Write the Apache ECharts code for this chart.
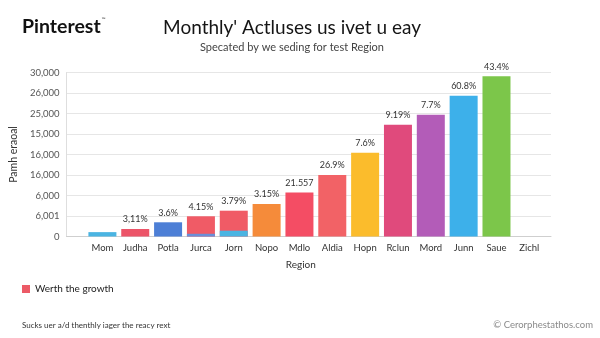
<!DOCTYPE html>
<html>
<head>
<meta charset="utf-8">
<script src="https://cdn.jsdelivr.net/npm/echarts@6/dist/echarts.min.js"></script>
<style>html,body{margin:0;padding:0;background:#fff;}#c{width:600px;height:338px;}</style>
</head>
<body>
<div id="c"></div>
<script>
var categories = ['Mom','Judha','Potla','Jurca','Jorn','Nopo','Mdlo','Aldia','Hopn','Rclun','Mord','Junn','Saue','Zichl'];
var totalValues = [800, 1370, 2600, 3700, 4720, 5950, 8050, 11250, 15330, 20450, 22280, 25760, 29300, null];
var baseValues = [null, null, null, 500, 1060, null, null, null, null, null, null, null, null, null];
var barLabels = ['', '3,11%', '3.6%', '4.15%', '3.79%', '3.15%', '21.557', '26.9%', '7.6%', '9.19%', '7.7%', '60.8%', '43.4%', ''];
var barColors = ['#4ab4e2','#ec5468','#4d7fd6','#f05b66','#f05b66','#f58b3a','#f44d64','#f26266','#fbbc2c','#e04a7c','#b35cb8','#3db0ea','#7cc64a','#cccccc'];
var baseColors = ['#4ab4e2','#4ab4e2','#4ab4e2','#6a8fd8','#4ab4e2','#4ab4e2','#4ab4e2','#4ab4e2','#4ab4e2','#4ab4e2','#4ab4e2','#4ab4e2','#4ab4e2','#4ab4e2'];
var yTickLabels = ['0','6,001','6,000','16,000','16,000','15,000','25,000','26,000','30,000'];
var yStep = 3750;

var FONT = 'Lato, "Open Sans", sans-serif';
var chart = echarts.init(document.getElementById('c'), null, {renderer: 'canvas'});

var idx = categories.map(function (c, i) { return i; });

chart.setOption({
  animation: false,
  textStyle: {fontFamily: FONT},
  title: [
    {
      text: "Monthly' Actluses us ivet u eay",
      subtext: 'Specated by we seding for test Region',
      left: 287, top: 13, textAlign: 'center',
      itemGap: 5,
      textStyle: {fontSize: 19, fontWeight: 'normal', color: '#151515', fontFamily: FONT},
      subtextStyle: {fontSize: 11, color: '#444', fontFamily: FONT}
    },
    {
      text: '{a|Pinterest}{b|™}',
      left: 17, top: 12,
      textStyle: {rich: {
        a: {fontSize: 19.5, fontWeight: 'bold', color: '#111', fontFamily: FONT},
        b: {fontSize: 5, color: '#555', verticalAlign: 'top', padding: [0, 0, 11, 1]}
      }}
    },
    {
      text: 'Sucks uer a/d thenthly iager the reacy rext',
      left: 17, top: 316,
      textStyle: {fontSize: 8, fontWeight: 'normal', color: '#333', fontFamily: FONT}
    },
    {
      text: '© Cerorphestathos.com',
      right: 2, top: 315,
      textStyle: {fontSize: 9.5, fontWeight: 'normal', color: '#8a8a8a', fontFamily: FONT}
    }
  ],
  legend: {
    data: ['Werth the growth'],
    left: 17, top: 279,
    icon: 'rect', itemWidth: 8, itemHeight: 8, itemGap: 6,
    textStyle: {fontSize: 10, color: '#222', fontFamily: FONT}
  },
  grid: {left: 57, right: 49, top: 72.5, bottom: 101.5, containLabel: false},
  xAxis: {
    type: 'value',
    min: -1.09, max: 13.66,
    name: 'Region', nameLocation: 'middle', nameGap: 23,
    nameTextStyle: {fontSize: 10, color: '#333', padding: [0, 16, 0, 0]},
    axisLine: {show: true, onZero: false, lineStyle: {color: '#cfcfcf', width: 1}},
    axisTick: {show: false},
    splitLine: {show: false},
    axisLabel: {
      customValues: idx,
      margin: 6, fontSize: 9.5, color: '#333',
      formatter: function (v) { return categories[Math.round(v)] || ''; }
    }
  },
  yAxis: {
    type: 'value',
    min: 0, max: 30000, interval: yStep,
    name: 'Pamh eraoal', nameLocation: 'middle', nameGap: 38, nameRotate: 90,
    nameTextStyle: {fontSize: 10.5, color: '#333'},
    axisLine: {show: true, onZero: false, lineStyle: {color: '#dedede'}},
    axisTick: {show: false},
    splitLine: {lineStyle: {color: '#e6e6e6', width: 1}},
    axisLabel: {
      margin: 7, fontSize: 9.5, color: '#555',
      formatter: function (v) { return yTickLabels[Math.round(v / yStep)]; }
    }
  },
  series: [
    {
      name: 'Werth the growth', type: 'bar', barWidth: 28, barGap: '-100%',
      itemStyle: {color: '#ec5a66'},
      data: idx.map(function (i) {
        return {value: [i, totalValues[i]], itemStyle: {color: barColors[i]}};
      }),
      label: {
        show: true, position: 'top', distance: 5,
        fontSize: 9, color: '#333',
        formatter: function (p) { return barLabels[p.dataIndex]; }
      }
    },
    {
      name: 'base', type: 'bar', barWidth: 28, barGap: '-100%', z: 3,
      data: idx.map(function (i) {
        return {value: [i, baseValues[i]], itemStyle: {color: baseColors[i]}};
      })
    }
  ]
});
</script>
</body>
</html>
